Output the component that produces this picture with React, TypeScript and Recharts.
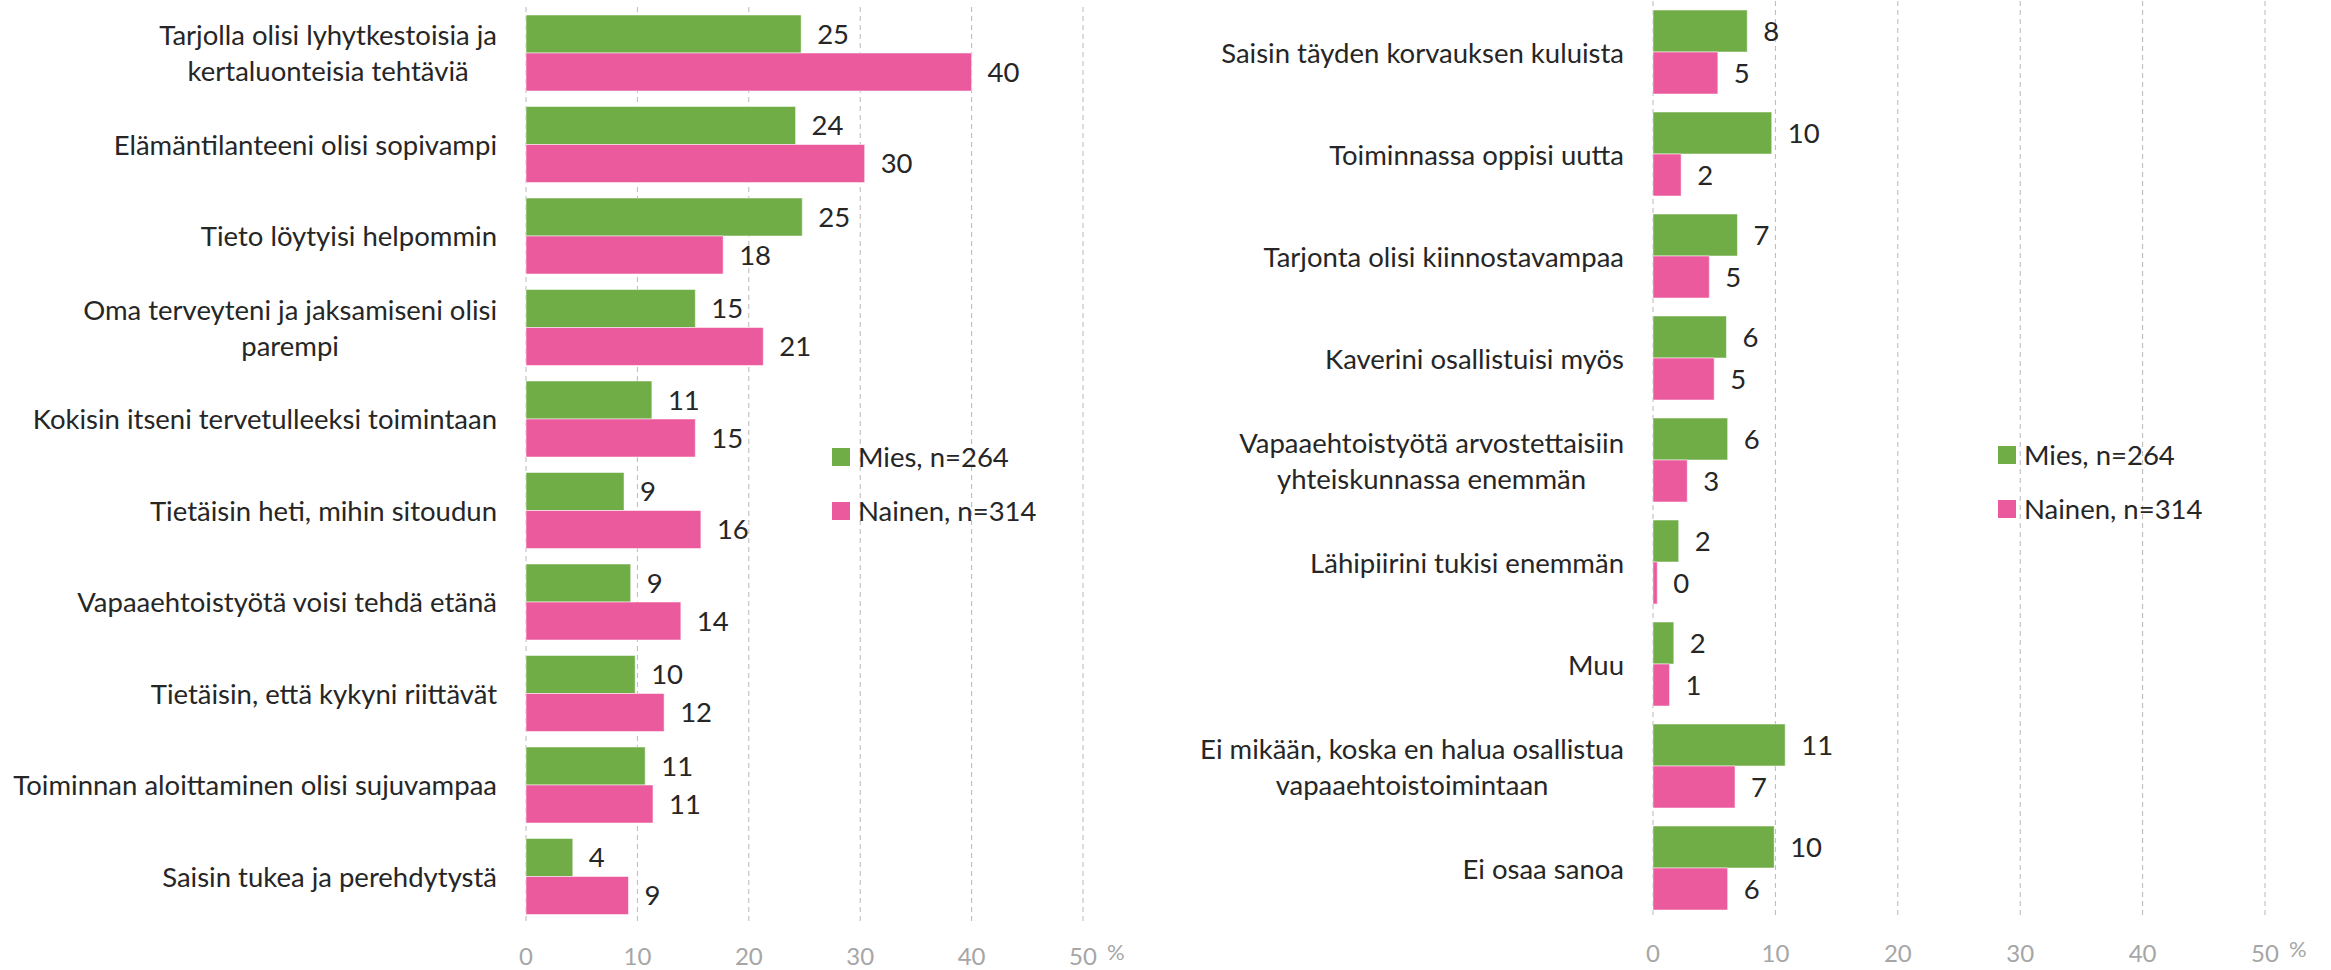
import React from "react";
import { BarChart, Bar, XAxis, YAxis, CartesianGrid, LabelList } from "recharts";

const leftCategories = [
  "Tarjolla olisi lyhytkestoisia ja\nkertaluonteisia tehtäviä",
  "Elämäntilanteeni olisi sopivampi",
  "Tieto löytyisi helpommin",
  "Oma terveyteni ja jaksamiseni olisi\nparempi",
  "Kokisin itseni tervetulleeksi toimintaan",
  "Tietäisin heti, mihin sitoudun",
  "Vapaaehtoistyötä voisi tehdä etänä",
  "Tietäisin, että kykyni riittävät",
  "Toiminnan aloittaminen olisi sujuvampaa",
  "Saisin tukea ja perehdytystä",
];
const leftMies = [24.7, 24.2, 24.8, 15.2, 11.3, 8.8, 9.4, 9.8, 10.7, 4.2];
const leftNainen = [40.0, 30.4, 17.7, 21.3, 15.2, 15.7, 13.9, 12.4, 11.4, 9.2];

const rightCategories = [
  "Saisin täyden korvauksen kuluista",
  "Toiminnassa oppisi uutta",
  "Tarjonta olisi kiinnostavampaa",
  "Kaverini osallistuisi myös",
  "Vapaaehtoistyötä arvostettaisiin\nyhteiskunnassa enemmän",
  "Lähipiirini tukisi enemmän",
  "Muu",
  "Ei mikään, koska en halua osallistua\nvapaaehtoistoimintaan",
  "Ei osaa sanoa",
];
const rightMies = [7.7, 9.7, 6.9, 6.0, 6.1, 2.1, 1.7, 10.8, 9.9];
const rightNainen = [5.3, 2.3, 4.6, 5.0, 2.8, 0.35, 1.35, 6.7, 6.1];

const xTicks = [0, 10, 20, 30, 40, 50];
const seriesNames = ["Mies, n=264", "Nainen, n=314"];

const GREEN = "#70ad47";
const PINK = "#ec5a9e";
const FONT = "Lato, 'Open Sans', sans-serif";
const FS = 27.5;
const TICK_FS = 24;
const LINE = 36;

let ctx: CanvasRenderingContext2D | null = null;
function textWidth(s: string) {
  if (!ctx) ctx = document.createElement("canvas").getContext("2d");
  ctx!.font = `${FS}px Lato`;
  return ctx!.measureText(s).width;
}

function CategoryTick(props: any) {
  const { y, payload, right } = props;
  const lines = String(payload.value).split("\n");
  const multi = lines.length > 1;
  const w = Math.max(...lines.map(textWidth));
  return (
    <g>
      {lines.map((l, i) => (
        <text
          key={i}
          x={multi ? right - w / 2 : right}
          y={y + (i - (lines.length - 1) / 2) * LINE}
          textAnchor={multi ? "middle" : "end"}
          dominantBaseline="central"
          fill="#262626"
          fontSize={FS}
          fontFamily={FONT}
        >
          {l}
        </text>
      ))}
    </g>
  );
}

function ValueTick(props: any) {
  const { x, payload, bottom } = props;
  return (
    <g>
      <text
        x={x}
        y={bottom + 33}
        textAnchor="middle"
        dominantBaseline="central"
        fill="#a6a6a6"
        fontSize={TICK_FS}
        fontFamily={FONT}
      >
        {payload.value}
      </text>
      {payload.value === 50 && (
        <text
          x={x + 24}
          y={bottom + 29}
          dominantBaseline="central"
          fill="#a6a6a6"
          fontSize={22}
          fontFamily={FONT}
        >
          %
        </text>
      )}
    </g>
  );
}

function SideChart({ data, left, width, yWidth, rightMargin, top, bottom, barSize }: any) {
  const height = 970;
  return (
    <div style={{ position: "absolute", left, top: 0 }}>
      <BarChart
        width={width}
        height={height}
        data={data}
        layout="vertical"
        barGap={0}
        margin={{ top, right: rightMargin, bottom: 0, left: 0 }}
      >
        <CartesianGrid horizontal={false} stroke="#b8b8b8" strokeDasharray="5 4" />
        <XAxis
          type="number"
          domain={[0, 50]}
          ticks={xTicks}
          height={height - bottom}
          axisLine={false}
          tickLine={false}
          tick={<ValueTick bottom={bottom} />}
          interval={0}
        />
        <YAxis
          type="category"
          dataKey="name"
          width={yWidth}
          axisLine={false}
          tickLine={false}
          interval={0}
          tick={<CategoryTick right={yWidth - 29} />}
        />
        <Bar dataKey="mies" fill={GREEN} barSize={barSize} isAnimationActive={false} stroke="#ffffff" strokeOpacity={0.5}>
          <LabelList dataKey="mies" position="right" offset={16} formatter={(v: any) => Math.round(v)} fill="#262626" fontSize={FS} fontFamily={FONT} />
        </Bar>
        <Bar dataKey="nainen" fill={PINK} barSize={barSize} isAnimationActive={false} stroke="#ffffff" strokeOpacity={0.5}>
          <LabelList dataKey="nainen" position="right" offset={16} formatter={(v: any) => Math.round(v)} fill="#262626" fontSize={FS} fontFamily={FONT} />
        </Bar>
      </BarChart>
    </div>
  );
}

function LegendBox({ left, top }: { left: number; top: number }) {
  const colors = [GREEN, PINK];
  return (
    <div style={{ position: "absolute", left, top, fontFamily: FONT, fontSize: FS, color: "#262626" }}>
      {seriesNames.map((n, i) => (
        <div key={n} style={{ display: "flex", alignItems: "center", height: 54, lineHeight: "54px" }}>
          <span style={{ display: "inline-block", width: 18, height: 18, background: colors[i], marginRight: 8 }} />
          <span>{n}</span>
        </div>
      ))}
    </div>
  );
}

export default function App() {
  const leftData = leftCategories.map((name, i) => ({ name, mies: leftMies[i], nainen: leftNainen[i] }));
  const rightData = rightCategories.map((name, i) => ({ name, mies: rightMies[i], nainen: rightNainen[i] }));
  return (
    <div style={{ position: "absolute", left: 0, top: 0, width: 2331, height: 970, background: "#fff", overflow: "hidden" }}>
      <SideChart data={leftData} left={0} width={1160} yWidth={526} rightMargin={77} top={7} bottom={922} barSize={38} />
      <SideChart data={rightData} left={1160} width={1171} yWidth={493} rightMargin={66} top={1} bottom={919} barSize={42} />
      <LegendBox left={832} top={430} />
      <LegendBox left={1998} top={428} />
    </div>
  );
}
